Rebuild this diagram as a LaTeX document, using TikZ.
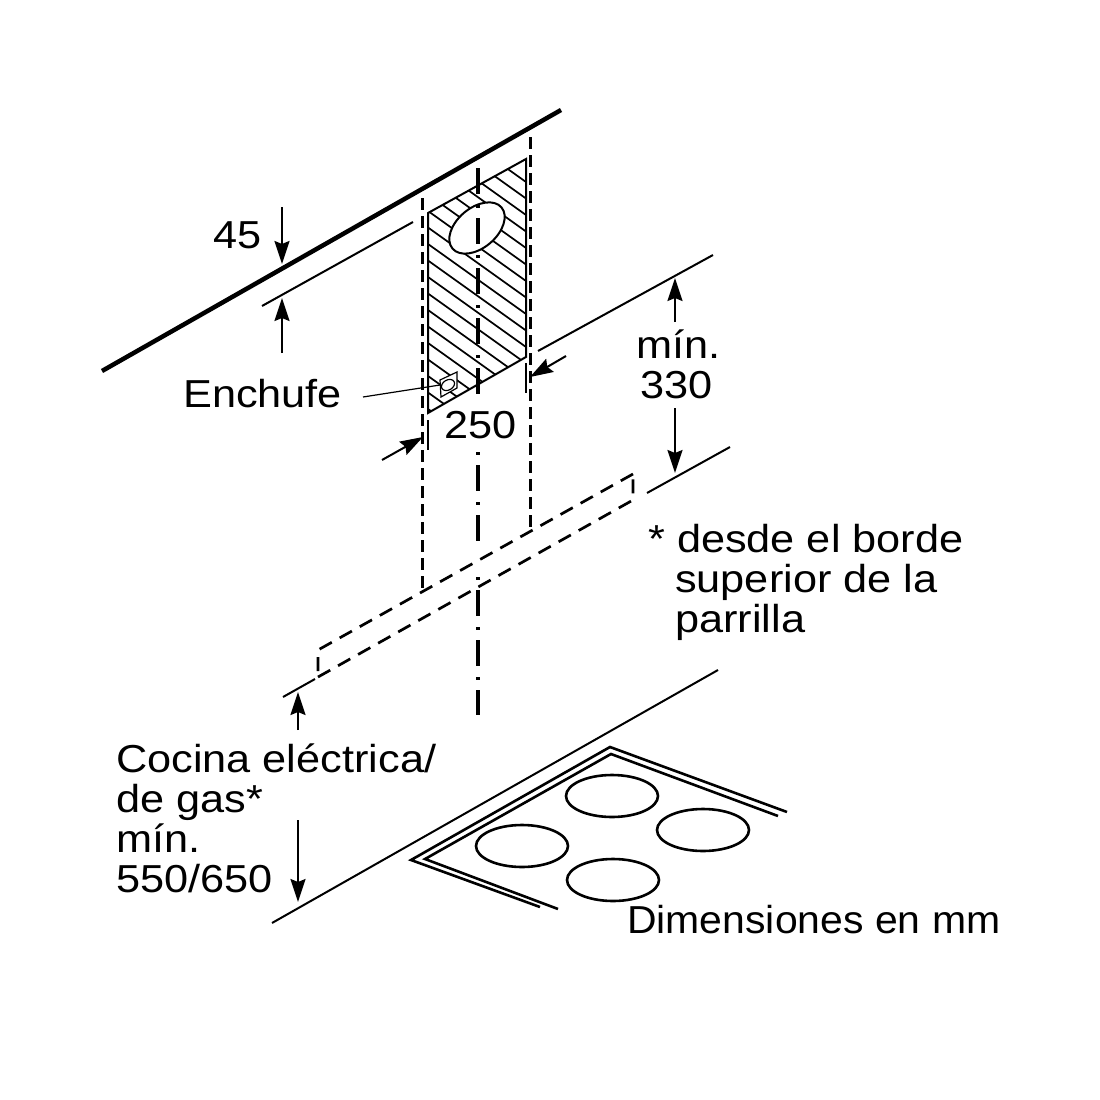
\documentclass[tikz,border=0pt]{standalone}
\usepackage{fontspec}
\setmainfont[FakeStretch=1.11]{Liberation Sans}
\newfontfamily\unitsfont[FakeStretch=1.05]{Liberation Sans}
\usetikzlibrary{arrows.meta}
\tikzset{
  lbl/.style={anchor=base west, inner sep=0pt, font=\fontsize{39}{40}\selectfont},
  thinline/.style={line width=2pt},
  hatchline/.style={line width=1.7pt},
  hidden/.style={line width=3pt, dash pattern=on 12pt off 6pt},
  hiddenbar/.style={line width=2.7pt, dash pattern=on 14pt off 9pt},
  axisline/.style={line width=4pt, dash pattern=on 26pt off 11pt on 3pt off 10pt},
  dimarrow/.style={line width=2pt, -{Stealth[length=23pt,width=15pt,inset=3pt]}},
  plate/.style={line width=2.6pt}
}
\begin{document}
\begin{tikzpicture}[x=1pt,y=-1pt]
\useasboundingbox (0,0) rectangle (1100,1100);
% wall
\draw[line width=4.5pt] (102,371) -- (561,110);
% cut-out
\begin{scope}
  \clip (428,213) -- (526,159) -- (526,357) -- (428,413) -- cycle;
  \foreach \y in {-101,-84.5,...,215}
    \draw[hatchline] (428,213+\y) -- (526,213+\y+70);
\end{scope}
\draw[thinline] (428,213) -- (526,159) -- (526,357) -- (428,413) -- cycle;
\draw[line width=2pt, fill=white] (477,228) ellipse [x radius=32, y radius=20, rotate=40];
% socket
\draw[line width=1.2pt, fill=white] (440,380) -- (457,372) -- (457,388) -- (441,397) -- cycle;
\draw[line width=1.2pt] (448,385) ellipse [x radius=7, y radius=5, rotate=30];
% hidden lines
\draw[hidden] (422.5,198) -- (422.5,590);
\draw[hidden] (530.5,137) -- (530.5,528);
\draw[axisline] (477.5,168) -- (477.5,398);
\draw[axisline, dash phase=37pt] (477.5,452) -- (477.5,543);
\draw[axisline, dash phase=37pt] (477.5,577) -- (477.5,715);
\draw[hiddenbar] (633,474) -- (318,650) -- (318,677);
\draw[hiddenbar] (318,677) -- (633,500) -- (633,474);
% dimension lines
\draw[thinline] (262,306) -- (413,222);
\draw[thinline] (538,351) -- (713,255);
\draw[thinline] (647,493) -- (730,447);
\draw[thinline] (283,697) -- (315,679);
\draw[thinline] (272,923) -- (718,670);
\draw[thinline] (428,420) -- (428,450);
\draw[thinline] (526,363) -- (526,393);
\draw[dimarrow] (282,207) -- (282,264);
\draw[dimarrow] (282,353) -- (282,298);
\draw[dimarrow] (675,322) -- (675,278);
\draw[dimarrow] (675,408) -- (675,473);
\draw[dimarrow] (298,730) -- (298,692);
\draw[dimarrow] (298,820) -- (298,902);
\draw[dimarrow] (382,460) -- (423,437);
\draw[dimarrow] (566,356) -- (530,377);
% hob
\draw[plate] (540,907) -- (411,860) -- (610,747) -- (787,812);
\draw[plate] (558,909) -- (425,859) -- (611,754) -- (778,816);
\draw[plate] (612,796) ellipse [x radius=46, y radius=21];
\draw[plate] (703,830) ellipse [x radius=46, y radius=21];
\draw[plate] (522,846) ellipse [x radius=46, y radius=21];
\draw[plate] (613,880) ellipse [x radius=46, y radius=21];
% labels
\node[lbl] (depth) at (213,248) {45};
\node[lbl] (socket) at (183,407) {Enchufe};
\node[lbl] (width) at (444,438) {250};
\node[lbl] (minlbl) at (636,358) {mín.};
\node[lbl] (height) at (640,398) {330};
\node[lbl] (note) at (648,552) {* desde el borde};
\node[lbl] (noteb) at (675,592) {superior de la};
\node[lbl] (notec) at (675,632) {parrilla};
\node[lbl] (hoba) at (116,772) {Cocina eléctrica/};
\node[lbl] (hobb) at (116,812) {de gas*};
\node[lbl] (hobc) at (116,852) {mín.};
\node[lbl] (hobd) at (116,892) {550/650};
\node[lbl, font=\fontsize{39}{40}\unitsfont] (units) at (627,933) {Dimensiones en mm};
\coordinate (socketstart) at (363,397);
\coordinate (socketend) at (440,385);
\draw[line width=1.2pt] (socketstart) -- (socketend);
\end{tikzpicture}
\end{document}
